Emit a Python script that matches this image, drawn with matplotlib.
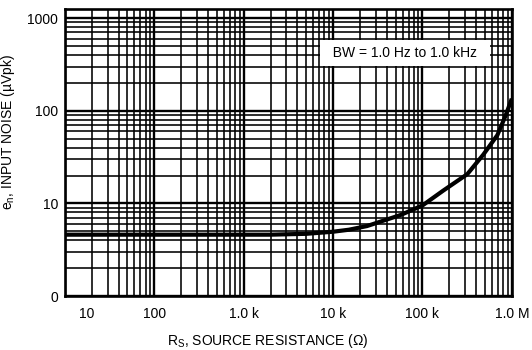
import matplotlib.pyplot as plt
from matplotlib.ticker import LogLocator, NullFormatter
from matplotlib.transforms import ScaledTranslation

# Values
rs_ohm = [10, 100, 1000, 2000, 5000, 10000, 15000, 24000, 57000, 100000,
          170000, 318000, 480000, 690000, 850000, 1000000]
noise_uvpk = [4.6, 4.6, 4.6, 4.6, 4.7, 4.95, 5.2, 5.7, 7.5, 9.5,
              13.7, 20.7, 33.6, 54.6, 88, 135]

x_ticks = [10, 100, 1000, 10000, 100000, 1000000]
x_labels = ['10', '100', '1.0 k', '10 k', '100 k', '1.0 M']
y_ticks = [1, 10, 100, 1000]
y_labels = ['0', '10', '100', '1000']

plt.rcParams['font.family'] = ['Liberation Sans', 'DejaVu Sans']
plt.rcParams['mathtext.default'] = 'regular'

fig = plt.figure(figsize=(5.32, 3.5), dpi=100)
ax = fig.add_axes([0.122, 0.154, 0.840, 0.820])

ax.set_xscale('log')
ax.set_yscale('log')
ax.set_xlim(10, 1e6)
ax.set_ylim(1, 1250)

# dense printed-style grid
ax.xaxis.set_minor_locator(LogLocator(base=10, subs=range(2, 10)))
ax.yaxis.set_minor_locator(LogLocator(base=10, subs=range(2, 10)))
ax.xaxis.set_minor_formatter(NullFormatter())
ax.yaxis.set_minor_formatter(NullFormatter())
ax.grid(True, which='major', color='black', lw=1.7)
ax.grid(True, which='minor', color='black', lw=1.15)
ax.set_axisbelow(True)

ax.plot(rs_ohm, noise_uvpk, color='black', lw=3.0, solid_capstyle='butt',
        solid_joinstyle='round')

ax.set_xticks(x_ticks)
ax.set_xticklabels(x_labels)
ax.set_yticks(y_ticks)
ax.set_yticklabels(y_labels)
ax.tick_params(which='both', length=0, labelsize=10, colors='black')
ax.tick_params(axis='x', pad=8)
ax.tick_params(axis='y', pad=5)

# first x label sits right of the axis corner in the original
lbl = ax.xaxis.get_major_ticks()[0].label1
lbl.set_transform(lbl.get_transform() + ScaledTranslation(0.22, 0, fig.dpi_scale_trans))

for s in ax.spines.values():
    s.set_linewidth(1.9)
    s.set_color('black')

ax.set_xlabel('R$_S$, SOURCE RESISTANCE (\u03a9)', fontsize=10)
ax.xaxis.set_label_coords(0.454, -0.125)
ax.set_ylabel('e$_n$, INPUT NOISE (\u00b5Vpk)', fontsize=10)
ax.yaxis.set_label_coords(-0.107, 0.571)

ax.text(0.761, 0.847, '  BW = 1.0 Hz to 1.0 kHz  ', transform=ax.transAxes,
        ha='center', va='center', fontsize=10,
        bbox=dict(facecolor='white', edgecolor='none', boxstyle='square,pad=0.4'))

plt.savefig('out.png', dpi=100)
